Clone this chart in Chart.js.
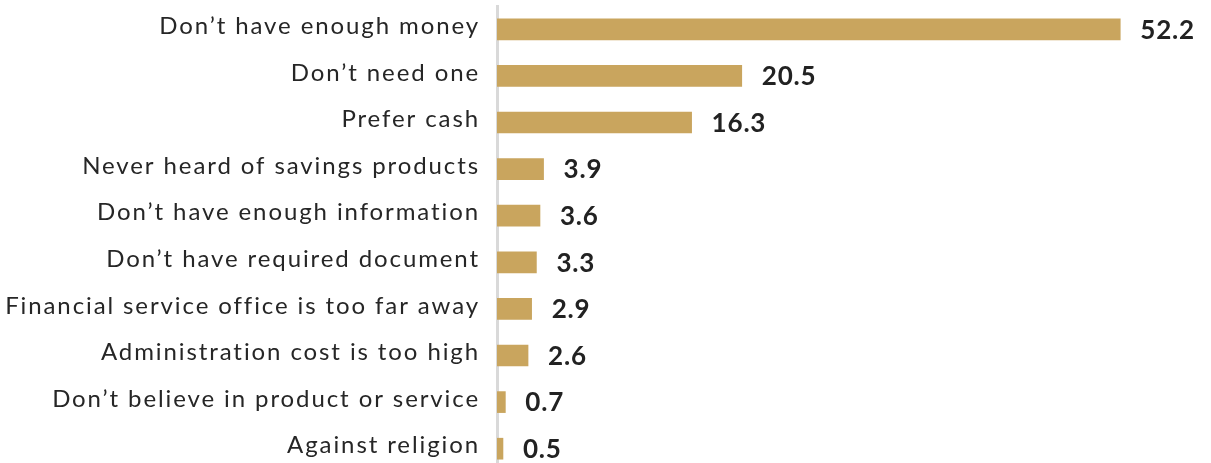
<!DOCTYPE html>
<html><head><meta charset="utf-8">
<script src="https://cdn.jsdelivr.net/npm/chart.js@4"></script>
<style>html,body{margin:0;padding:0;background:#fff;overflow:hidden;}canvas{display:block;}</style>
</head><body><canvas id="c" width="1211" height="472"></canvas>
<script>
const categories = ["Don’t have enough money","Don’t need one","Prefer cash","Never heard of savings products","Don’t have enough information","Don’t have required document","Financial service office is too far away","Administration cost is too high","Don’t believe in product or service","Against religion"];
const values = [52.2,20.5,16.3,3.9,3.6,3.3,2.9,2.6,0.7,0.5];
const valueLabels = ["52.2","20.5","16.3","3.9","3.6","3.3","2.9","2.6","0.7","0.5"];
const FONT = "Lato, 'Open Sans', sans-serif";
const LS = '1.9px';
const spacingPlugin = {
  id:'spacing',
  beforeInit(chart){ chart.ctx.letterSpacing = LS; },
  beforeUpdate(chart){ chart.ctx.letterSpacing = LS; },
  beforeDraw(chart){ chart.ctx.letterSpacing = LS; }
};
const labelPlugin = {
  id:'vals',
  afterDatasetsDraw(chart){
    const ctx = chart.ctx; const meta = chart.getDatasetMeta(0);
    ctx.save(); ctx.letterSpacing = '0.8px'; ctx.font = "bold 26px " + FONT; ctx.fillStyle = "#222"; ctx.textBaseline = "middle"; ctx.textAlign = "left";
    meta.data.forEach((el,i)=>{ ctx.fillText(valueLabels[i], el.x + 20, el.y + 1); });
    ctx.restore();
  }
};
new Chart(document.getElementById('c'), {
  type:'bar',
  data:{labels:categories, datasets:[{data:values, backgroundColor:'#C9A55E', barThickness:21}]},
  options:{
    indexAxis:'y', responsive:false, animation:false,
    layout:{padding:{top:6,right:0,bottom:0,left:0}},
    plugins:{legend:{display:false}, tooltip:{enabled:false}},
    scales:{
      x:{display:false, min:0, max:59.8},
      y:{
        afterFit(s){ s.width = 497; s.paddingTop = 0; s.paddingBottom = 0; },
        grid:{display:false, drawTicks:false},
        border:{display:true, color:'#d9d9d9', width:3},
        ticks:{padding:17, labelOffset:-3, color:'#262626', font:{family:FONT, size:24}}
      }
    }
  },
  plugins:[spacingPlugin, labelPlugin]
});
</script></body></html>
